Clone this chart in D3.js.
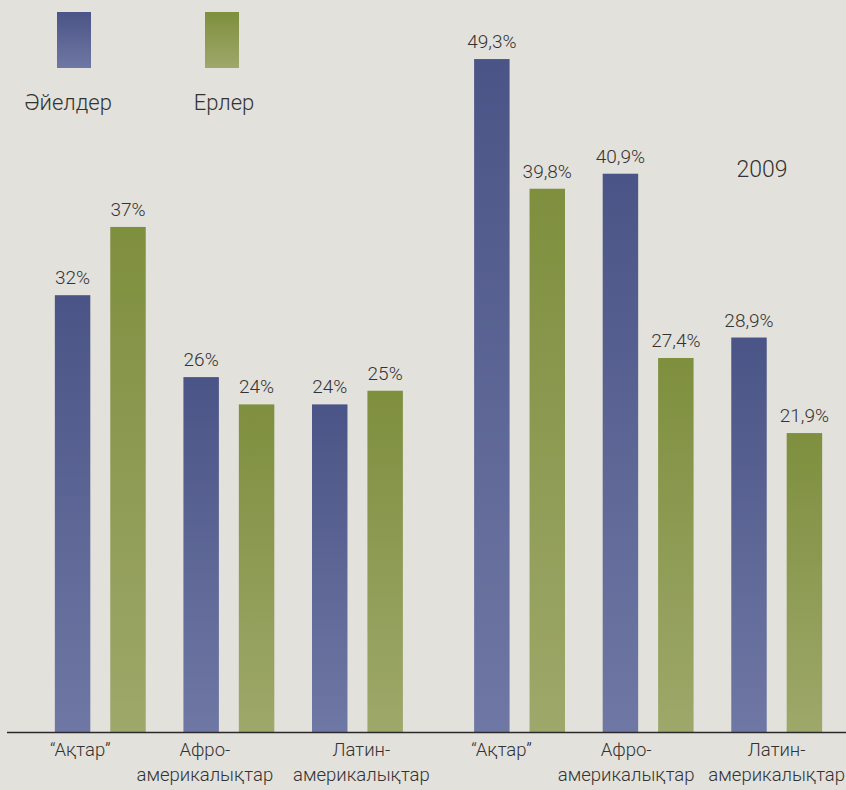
<!DOCTYPE html>
<html>
<head>
<meta charset="utf-8">
<script src="https://cdn.jsdelivr.net/npm/d3@7"></script>
<style>
  body { margin: 0; background: #e3e1db; }
  svg { display: block; font-family: Roboto, "Noto Sans", sans-serif; font-weight: 300; }
</style>
</head>
<body>
<svg id="chart" width="846" height="790"></svg>
<script>
// data
const periods = ["earlier", "2009"];
const categories = ["Ақтар", "Афро-америкалықтар", "Латин-америкалықтар"];
const categoryLines = [["\u201cАқтар\u201d"], ["Афро-", "америкалықтар"], ["Латин-", "америкалықтар"]];
const seriesNames = ["Әйелдер", "Ерлер"];
const women = [[32, 26, 24], [49.3, 40.9, 28.9]];
const men = [[37, 24, 25], [39.8, 27.4, 21.9]];
const valueLabels = {
    women: [["32%", "26%", "24%"], ["49,3%", "40,9%", "28,9%"]],
    men: [["37%", "24%", "25%"], ["39,8%", "27,4%", "21,9%"]]
};
const periodTitle = "2009";

const svg = d3.select("svg#chart");
const width = 846;
const baseY = 732;

// gradients
const defs = svg.append("defs");
const grads = [
    { id: "gBlue", top: "#4a5486", bottom: "#6f78a4" },
    { id: "gGreen", top: "#7e8f3e", bottom: "#9ea86a" }
];
grads.forEach((g) => {
    let lg = defs.append("linearGradient")
        .attr("id", g.id)
        .attr("x1", 0).attr("y1", 0).attr("x2", 0).attr("y2", 1);
    lg.append("stop").attr("offset", "0%").attr("stop-color", g.top);
    lg.append("stop").attr("offset", "100%").attr("stop-color", g.bottom);
});
const fills = ["url(#gBlue)", "url(#gGreen)"];

// scales
const yScale = d3.scaleLinear().domain([0, 50]).range([baseY, baseY - 50 * 13.65]);
const periodScale = d3.scaleBand().domain(periods).range([36, 841]).paddingInner(0.08);
const catScale = d3.scaleBand().domain(categories).range([0, periodScale.bandwidth()]);
const seriesScale = d3.scaleBand()
    .domain(seriesNames)
    .range([0, catScale.bandwidth()])
    .paddingInner(0.36)
    .paddingOuter(0.34);

// bars
const barData = [];
periods.forEach((p, pi) => {
    categories.forEach((c, ci) => {
        barData.push({ p, c, s: seriesNames[0], v: women[pi][ci], label: valueLabels.women[pi][ci], k: 0 });
        barData.push({ p, c, s: seriesNames[1], v: men[pi][ci], label: valueLabels.men[pi][ci], k: 1 });
    });
});
const barX = (d) => periodScale(d.p) + catScale(d.c) + seriesScale(d.s);

svg.append("g")
    .selectAll("rect")
    .data(barData)
    .join("rect")
    .attr("x", barX)
    .attr("y", (d) => yScale(d.v))
    .attr("width", seriesScale.bandwidth())
    .attr("height", (d) => yScale(0) - yScale(d.v))
    .attr("fill", (d) => fills[d.k]);

svg.append("g")
    .selectAll("text")
    .data(barData)
    .join("text")
    .attr("x", (d) => barX(d) + seriesScale.bandwidth() / 2)
    .attr("y", (d) => yScale(d.v) - 11)
    .attr("text-anchor", "middle")
    .attr("fill", "#333")
    .style("font-size", "19px")
    .text((d) => d.label);

// baseline
svg.append("line")
    .attr("x1", 7).attr("x2", width)
    .attr("y1", baseY + 0.5).attr("y2", baseY + 0.5)
    .attr("stroke", "#2a2a2a")
    .attr("stroke-width", 1.6);

// category labels (slightly nudged like the print layout)
const labelShift = [[-20, -24, 4], [-18, -22, 0]];
periods.forEach((p, pi) => {
    categories.forEach((c, ci) => {
        let cx = periodScale(p) + catScale(c) + catScale.bandwidth() / 2 + labelShift[pi][ci];
        let t = svg.append("text")
            .attr("x", cx)
            .attr("y", baseY + 24)
            .attr("text-anchor", "middle")
            .attr("fill", "#333")
            .style("font-size", "18.5px");
        categoryLines[ci].forEach((line, li) => {
            t.append("tspan")
                .attr("x", cx)
                .attr("dy", li === 0 ? 0 : 25)
                .text(line);
        });
    });
});

// legend
const legendX = [57, 205];
const legendTextX = [68, 224];
seriesNames.forEach((s, i) => {
    svg.append("rect")
        .attr("x", legendX[i])
        .attr("y", 12)
        .attr("width", 34)
        .attr("height", 56)
        .attr("fill", fills[i]);
    svg.append("text")
        .attr("x", legendTextX[i])
        .attr("y", 110)
        .attr("text-anchor", "middle")
        .attr("fill", "#333")
        .style("font-size", "22px")
        .text(s);
});

// period title
svg.append("text")
    .attr("x", 762)
    .attr("y", 177)
    .attr("text-anchor", "middle")
    .attr("fill", "#333")
    .style("font-size", "23px")
    .text(periodTitle);
</script>
</body>
</html>
